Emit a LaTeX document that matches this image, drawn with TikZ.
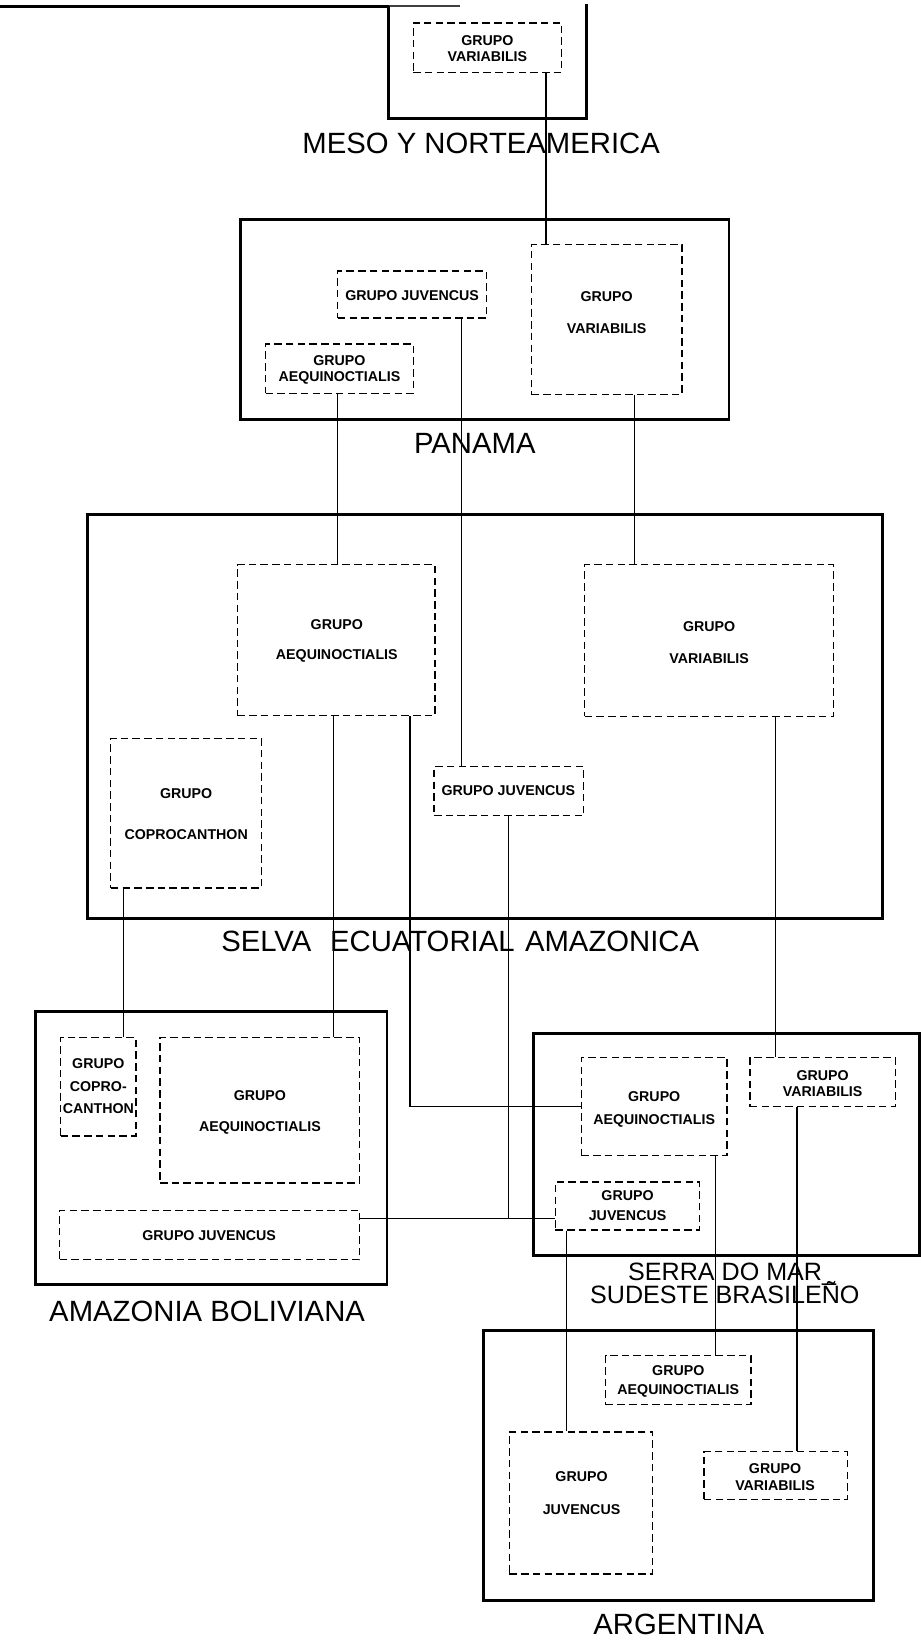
\documentclass[tikz,border=0pt]{standalone}
\usepackage{fontspec}
\setmainfont{Liberation Sans}
\usetikzlibrary{fit}
\begin{document}
\begin{tikzpicture}[x=0.5pt,y=-0.5pt,
  region/.style={draw, line width=1.4pt, inner sep=0pt},
  grp/.style={draw, line width=0.6pt, dash pattern=on 3.6pt off 2pt, inner sep=0pt},
  lab/.style={inner sep=0pt, font=\bfseries\fontsize{6.8}{8}\selectfont, text height=4.9pt, text depth=0pt},
  ttl/.style={inner sep=0pt, font=\fontsize{14}{16}\selectfont, text height=10pt, text depth=0pt},
  stl/.style={inner sep=0pt, font=\fontsize{12}{14}\selectfont, text height=8.6pt, text depth=0pt},
  conn/.style={line width=0.5pt}]
\useasboundingbox (0,0) rectangle (880,1568);

% ---------- MESO Y NORTEAMERICA ----------
\draw[line width=1.3pt] (0,6) -- (372,6);
\draw[line width=0.8pt, black!75] (372,6) -- (440,6);
\draw[region] (371,6) -- (371,113) -- (561,113) -- (561,4);
\node[grp, fit={(395,22) (537,69)}] (mvar) {};
\node[lab] (mvar1) at (466,39) {GRUPO};
\node[lab] (mvar2) at (466,54) {VARIABILIS};
\node[ttl] (tmeso) at (460,137) {MESO Y NORTEAMERICA};

% ---------- PANAMA ----------
\node[region, fit={(230,210) (697,401)}] (pan) {};
\node[grp, fit={(323,259) (465,304)}] (pjuv) {};
\node[lab] (pjuv1) at (394,282) {GRUPO JUVENCUS};
\node[grp, fit={(254,329) (395,376)}] (paeq) {};
\node[lab] (paeq1) at (324.5,345) {GRUPO};
\node[lab] (paeq2) at (324.5,360) {AEQUINOCTIALIS};
\node[grp, fit={(508,234) (652,377)}] (pvar) {};
\node[lab] (pvar1) at (580,283) {GRUPO};
\node[lab] (pvar2) at (580,314) {VARIABILIS};
\node[ttl] (tpan) at (454,424) {PANAMA};

% ---------- SELVA ECUATORIAL AMAZONICA ----------
\node[region, fit={(84,492) (844,878)}] (selva) {};
\node[grp, fit={(227,540) (416,684)}] (saeq) {};
\node[lab] (saeq1) at (322,597) {GRUPO};
\node[lab] (saeq2) at (322,626) {AEQUINOCTIALIS};
\node[grp, fit={(559,540) (797,685)}] (svar) {};
\node[lab] (svar1) at (678,599) {GRUPO};
\node[lab] (svar2) at (678,629) {VARIABILIS};
\node[grp, fit={(106,706) (250,849)}] (scop) {};
\node[lab] (scop1) at (178,759) {GRUPO};
\node[lab] (scop2) at (178,798) {COPROCANTHON};
\node[grp, fit={(415,733) (558,780)}] (sjuv) {};
\node[lab] (sjuv1) at (486,756) {GRUPO JUVENCUS};
\node[ttl] (tselva) at (440,900) {SELVA\hspace{9pt}ECUATORIAL\hspace{5pt}AMAZONICA};

% ---------- AMAZONIA BOLIVIANA ----------
\node[region, fit={(34,967) (370,1228)}] (bol) {};
\node[grp, fit={(58,992) (130,1086)}] (bcop) {};
\node[lab] (bcop1) at (94,1017) {GRUPO};
\node[lab] (bcop2) at (94,1039) {COPRO-};
\node[lab] (bcop3) at (94,1059.5) {CANTHON};
\node[grp, fit={(153,992) (344,1131)}] (baeq) {};
\node[lab] (baeq1) at (248.5,1047.5) {GRUPO};
\node[lab] (baeq2) at (248.5,1076.6) {AEQUINOCTIALIS};
\node[grp, fit={(57,1157) (344,1204.5)}] (bjuv) {};
\node[lab] (bjuv1) at (200,1181.5) {GRUPO JUVENCUS};
\node[ttl] (tbol) at (198,1253) {AMAZONIA BOLIVIANA};

% ---------- SERRA DO MAR ----------
\node[region, fit={(510,988) (879,1200)}] (serra) {};
\node[grp, fit={(556,1011) (695,1105)}] (xaeq) {};
\node[lab] (xaeq1) at (625.5,1048) {GRUPO};
\node[lab] (xaeq2) at (625.5,1070) {AEQUINOCTIALIS};
\node[grp, fit={(717,1011) (856,1058)}] (xvar) {};
\node[lab] (xvar1) at (786.5,1028) {GRUPO};
\node[lab] (xvar2) at (786.5,1043) {VARIABILIS};
\node[grp, fit={(531,1130) (669,1176)}] (xjuv) {};
\node[lab] (xjuv1) at (600,1143) {GRUPO};
\node[lab] (xjuv2) at (600,1162) {JUVENCUS};
\node[stl] (tserra1) at (700,1216) {SERRA DO MAR\_};
\node[stl] (tserra2) at (693,1238) {SUDESTE BRASILEÑO};

% ---------- ARGENTINA ----------
\node[region, fit={(462,1272) (835,1530)}] (arg) {};
\node[grp, fit={(579,1296) (718,1343)}] (aaeq) {};
\node[lab] (aaeq1) at (648.5,1310) {GRUPO};
\node[lab] (aaeq2) at (648.5,1328) {AEQUINOCTIALIS};
\node[grp, fit={(487,1369) (624,1505)}] (ajuv) {};
\node[lab] (ajuv1) at (556,1412) {GRUPO};
\node[lab] (ajuv2) at (556,1443) {JUVENCUS};
\node[grp, fit={(673,1388) (810,1434)}] (avar) {};
\node[lab] (avar1) at (741,1404) {GRUPO};
\node[lab] (avar2) at (741,1420) {VARIABILIS};
\node[ttl] (targ) at (649,1553) {ARGENTINA};

% ---------- connectors ----------
\coordinate (k1) at (522,0);
\coordinate (k2) at (323,0);
\coordinate (k3) at (441,0);
\coordinate (k4) at (607,0);
\coordinate (k5) at (118,0);
\coordinate (k6) at (319,0);
\coordinate (k7) at (392,0);
\coordinate (jj) at (486,1165);
\coordinate (k9) at (741,0);
\coordinate (k10) at (684,0);
\coordinate (k11) at (762,0);
\coordinate (k12) at (542,0);

\draw[conn] (mvar.south -| k1) -- (pvar.north -| k1);
\draw[conn] (paeq.south -| k2) -- (saeq.north -| k2);
\draw[conn] (pjuv.south -| k3) -- (sjuv.north -| k3);
\draw[conn] (pvar.south -| k4) -- (svar.north -| k4);
\draw[conn] (scop.south -| k5) -- (bcop.north -| k5);
\draw[conn] (saeq.south -| k6) -- (baeq.north -| k6);
\draw[conn] (saeq.south -| k7) |- (xaeq.west);
\draw[conn] (sjuv.south -| jj) -- (jj);
\draw[conn] (bjuv.east |- jj) -- (xjuv.west |- jj);
\draw[conn] (svar.south -| k9) -- (xvar.north -| k9);
\draw[conn] (xaeq.south -| k10) -- (aaeq.north -| k10);
\draw[conn] (xvar.south -| k11) -- (avar.north -| k11);
\draw[conn] (xjuv.south -| k12) -- (ajuv.north -| k12);
\end{tikzpicture}
\end{document}
